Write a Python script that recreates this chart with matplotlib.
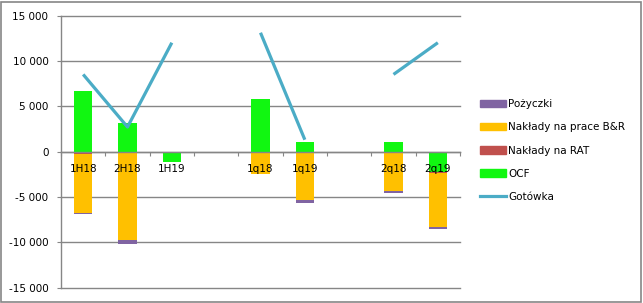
import numpy as np
import matplotlib
matplotlib.use('Agg')
from matplotlib import pyplot as plt
from matplotlib.patches import Rectangle, Patch
from matplotlib.lines import Line2D
from matplotlib.ticker import FuncFormatter, FixedLocator

GRID_COLOR = '#868686'

# ------------------------------------------------------------
# data
categories = ['1H18', '2H18', '1H19', '', '1q18', '1q19', '', '2q18', '2q19']
ocf = [6700, 3100, -1200, 0, 5800, 1100, 0, 1000, -2250]
naklady_rat = [-250, 0, 0, 0, -150, 0, 0, 0, -100]
naklady_br = [-6500, -9800, 0, 0, -2300, -5400, 0, -4400, -6000]
pozyczki = [-100, -400, 0, 0, 0, -300, 0, -200, -200]
gotowka = [8500, 2700, 12000, np.nan, 13100, 1300, np.nan, 8500, 12000]

# stacking order (closest to zero first) and styles
series = [('OCF', ocf, '#11F711'),
          ('Nakłady na RAT', naklady_rat, '#C0504D'),
          ('Nakłady na prace B&R', naklady_br, '#FFC000'),
          ('Pożyczki', pozyczki, '#8064A2')]
line_color = '#4BACC6'

plt.rcParams['font.family'] = ['DejaVu Sans']
plt.rcParams['font.size'] = 7.5

fig = plt.figure(figsize=(6.43, 3.03), dpi=100)
ax = fig.add_axes([61/643, 1-287.5/303, (460-61)/643, (287-15)/303])

x = np.arange(len(categories))
pos_bottom = np.zeros(len(x))
neg_bottom = np.zeros(len(x))
for name, vals, col in series:
    vals = np.array(vals, dtype=float)
    bottom = np.where(vals >= 0, pos_bottom, neg_bottom)
    ax.bar(x, vals, 0.41, bottom=bottom, color=col, zorder=2, linewidth=0)
    pos_bottom += np.where(vals > 0, vals, 0)
    neg_bottom += np.where(vals < 0, vals, 0)

ax.plot(x, gotowka, color=line_color, lw=2.3, zorder=4, solid_capstyle='butt')

ax.set_xlim(-0.5, len(x) - 0.5)
ax.set_ylim(-15000, 15000)
ax.set_yticks(np.arange(-15000, 15001, 5000))
ax.yaxis.set_major_formatter(FuncFormatter(lambda v, p: f"{int(v):,}".replace(',', ' ')))
ax.yaxis.grid(True, color=GRID_COLOR, lw=1, clip_on=False)
ax.set_axisbelow(True)

# ticks between categories, labels at centres drawn over the bars
ax.xaxis.set_major_locator(FixedLocator(np.arange(-0.5, len(x), 1.0)))
ax.set_xticklabels([])
ax.tick_params(axis='x', length=3, color=GRID_COLOR, direction='out')
ax.tick_params(axis='y', length=3, color=GRID_COLOR, pad=6)
for xi, lab in zip(x, categories):
    ax.annotate(lab, (xi, 0), xytext=(0, -12), textcoords='offset pixels',
                ha='center', va='top', fontsize=7.5, zorder=5)

for spine in ['top', 'right']:
    ax.spines[spine].set_visible(False)
ax.spines['bottom'].set_position(('data', 0))
for spine in ['left', 'bottom']:
    ax.spines[spine].set_color(GRID_COLOR)
    ax.spines[spine].set_linewidth(1)

handles = [Patch(color='#8064A2', label='Pożyczki'),
           Patch(color='#FFC000', label='Nakłady na prace B&R'),
           Patch(color='#C0504D', label='Nakłady na RAT'),
           Patch(color='#11F711', label='OCF'),
           Line2D([], [], color=line_color, lw=2.3, label='Gotówka')]
fig.legend(handles=handles, loc='center left', bbox_to_anchor=(480/643, 1-150.5/303),
           frameon=False, fontsize=7.5, labelspacing=1.25, handlelength=2.5,
           handletextpad=0.2, borderpad=0, borderaxespad=0)

# chart border
fig.patches.append(Rectangle((1/643, 1/303), 640/643, 300/303, transform=fig.transFigure,
                             fill=False, edgecolor=GRID_COLOR, lw=1.2))

fig.savefig('out.png', dpi=100)
